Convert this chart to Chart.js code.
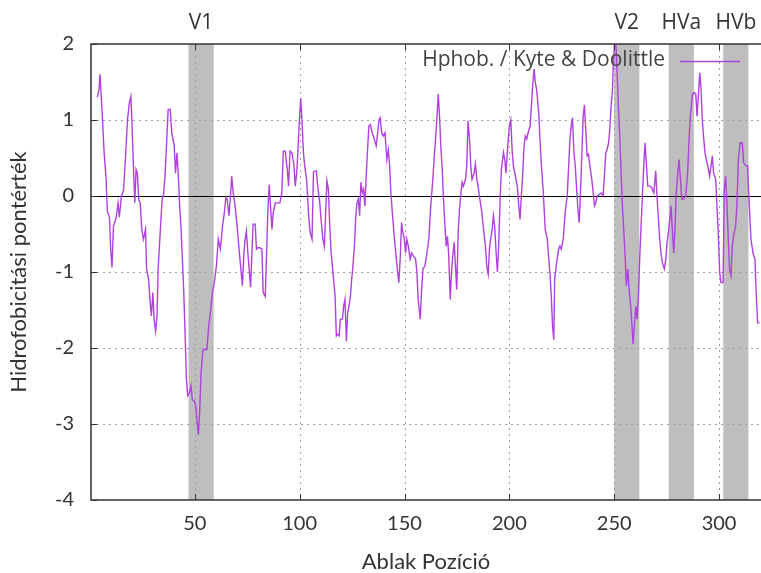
<!DOCTYPE html>
<html>
<head>
<meta charset="utf-8">
<script src="https://cdn.jsdelivr.net/npm/chart.js@4.4.1/dist/chart.umd.min.js"></script>
<style>
  html, body { margin: 0; padding: 0; background: #ffffff; }
  #wrap { width: 761px; height: 573px; }
</style>
</head>
<body>
<div id="wrap"><canvas id="hphobChart" width="761" height="573"></canvas></div>
<script>
// Window position (x) and Kyte & Doolittle score (y)
const positions = [
  3.5, 4.3, 4.8, 5.4, 6.0, 6.7, 7.7, 8.3, 9.3, 9.9, 10.5, 11.2, 12.4, 13.4, 14.0, 15.0, 16.0, 17.0, 17.9, 18.8,
  19.5, 20.0, 20.7, 21.4, 22.0, 22.6, 23.3, 24.0, 24.7, 25.5, 26.5, 27.0, 28.0, 28.7, 29.3, 30.0, 30.6, 31.3, 32.0, 32.5,
  33.5, 34.4, 35.0, 35.7, 36.4, 37.3, 38.3, 39.0, 39.6, 40.2, 40.8, 41.5, 42.1, 42.7, 43.4, 44.0, 44.7, 45.3, 46.0, 46.6,
  47.5, 48.2, 48.8, 49.8, 50.4, 51.0, 51.7, 52.3, 53.0, 53.9, 54.9, 55.8, 56.5, 57.4, 58.4, 59.3, 60.3, 61.2, 62.2, 63.2,
  64.1, 64.8, 65.4, 66.3, 67.0, 67.6, 68.3, 69.2, 70.2, 71.1, 72.1, 72.7, 73.4, 74.0, 74.6, 75.3, 75.9, 76.6, 77.2, 77.8,
  78.8, 79.4, 80.0, 81.0, 82.0, 82.6, 83.6, 84.2, 84.8, 85.5, 86.1, 86.8, 87.4, 88.4, 89.3, 90.6, 91.5, 92.2, 93.1, 94.1,
  94.7, 95.4, 96.3, 97.3, 97.9, 98.6, 99.2, 99.8, 100.5, 101.1, 101.8, 102.4, 103.3, 104.3, 105.0, 105.9, 106.6, 108.0, 108.6, 109.6,
  110.2, 111.1, 111.8, 112.4, 113.0, 113.7, 114.3, 115.0, 115.6, 116.2, 116.9, 117.5, 118.1, 118.8, 119.4, 120.4, 121.0, 121.6, 122.3, 122.9,
  123.5, 124.2, 124.8, 125.4, 126.1, 126.7, 127.3, 128.0, 128.6, 129.2, 129.9, 130.5, 131.1, 131.8, 132.4, 133.0, 133.7, 134.6, 135.6, 136.5,
  137.2, 137.8, 138.4, 139.1, 140.0, 140.7, 141.6, 142.3, 142.9, 143.5, 144.2, 145.1, 146.1, 146.7, 147.3, 148.0, 148.6, 149.2, 149.9, 150.5,
  151.1, 151.8, 152.7, 153.4, 154.3, 155.3, 155.9, 156.5, 157.5, 158.1, 158.8, 159.7, 160.7, 161.6, 162.3, 162.9, 163.5, 164.2, 164.8, 165.4,
  166.1, 166.7, 167.3, 168.0, 168.6, 169.2, 169.9, 170.5, 171.1, 171.8, 172.4, 173.0, 173.7, 174.3, 174.9, 175.6, 176.2, 176.9, 177.5, 178.1,
  179.1, 179.7, 180.3, 181.0, 181.6, 182.2, 183.2, 183.8, 184.5, 185.1, 185.7, 186.7, 187.7, 188.6, 189.2, 189.9, 190.5, 191.1, 191.8, 192.4,
  193.0, 193.7, 194.3, 194.9, 195.6, 196.2, 197.2, 197.8, 198.4, 199.1, 200.0, 200.7, 201.3, 201.9, 202.9, 203.8, 204.5, 205.1, 205.7, 206.4,
  207.0, 207.6, 208.3, 208.9, 209.9, 210.5, 211.1, 211.8, 212.4, 213.0, 214.0, 214.6, 215.2, 216.2, 217.1, 218.1, 218.7, 219.3, 220.0, 220.6,
  221.2, 221.6, 222.5, 223.5, 224.1, 224.7, 225.7, 226.6, 227.6, 228.2, 228.9, 229.5, 230.1, 230.8, 231.4, 232.0, 232.7, 233.3, 233.9, 234.6,
  235.2, 235.8, 236.5, 237.1, 237.7, 238.4, 239.3, 240.0, 240.6, 241.2, 241.9, 242.8, 243.8, 244.7, 245.4, 246.0, 246.6, 247.3, 247.9, 248.5,
  249.2, 249.5, 250.1, 250.8, 251.4, 252.0, 252.7, 253.3, 253.9, 254.6, 255.2, 255.8, 256.5, 257.1, 257.7, 258.4, 259.0, 259.6, 260.3, 260.9,
  261.6, 262.2, 262.8, 263.5, 264.1, 264.7, 265.4, 266.0, 267.0, 267.9, 268.9, 269.8, 270.4, 271.1, 271.7, 272.3, 273.0, 273.9, 274.6, 275.2,
  275.8, 276.5, 277.1, 277.7, 278.4, 279.0, 279.6, 280.3, 280.9, 281.6, 282.2, 283.1, 284.1, 285.0, 285.7, 286.3, 287.3, 288.2, 288.9, 289.5,
  290.1, 290.8, 291.4, 292.0, 292.7, 293.3, 293.9, 294.6, 295.5, 296.2, 296.8, 297.4, 298.4, 299.0, 299.6, 300.3, 300.9, 301.9, 302.5, 303.1,
  303.8, 304.4, 305.0, 305.7, 306.3, 306.9, 307.9, 308.5, 309.2, 310.1, 311.1, 311.7, 312.7, 313.6, 314.2, 315.2, 316.2, 317.1, 317.7, 318.4,
  319.3
];
const scores = [
  1.3, 1.4, 1.6, 1.3, 1.0, 0.6, 0.22, -0.2, -0.28, -0.7, -0.94, -0.4, -0.3, -0.09, -0.28, 0, 0.07, 0.53, 1.0, 1.23,
  1.31, 1.0, 0.4, -0.09, 0.35, 0.3, -0.05, -0.1, -0.44, -0.57, -0.44, -0.96, -1.1, -1.4, -1.58, -1.27, -1.62, -1.78, -1.58, -0.96,
  -0.48, -0.05, 0, 0.22, 0.61, 1.14, 1.14, 0.83, 0.75, 0.66, 0.3, 0.57, 0.3, -0.09, -0.4, -0.79, -1.23, -1.75, -2.41, -2.63,
  -2.59, -2.5, -2.68, -2.7, -2.76, -2.94, -3.14, -2.85, -2.32, -2.02, -2.02, -2.02, -1.75, -1.54, -1.27, -1.14, -0.92, -0.57, -0.7, -0.4,
  -0.22, -0.02, -0.04, -0.26, 0, 0.26, 0.04, -0.13, -0.4, -0.7, -1.0, -1.18, -0.75, -0.57, -0.46, -0.75, -0.96, -1.2, -0.79, -0.37,
  -0.37, -0.7, -0.68, -0.68, -0.7, -1.27, -1.32, -0.79, -0.22, 0.15, -0.13, -0.44, -0.22, -0.09, -0.09, -0.09, 0.04, 0.59, 0.59, 0.35,
  0.13, 0.59, 0.57, 0.4, 0.13, 0.3, 0.61, 0.96, 1.29, 1.0, 0.57, 0.4, 0.22, -0.26, -0.48, -0.57, 0.32, 0.33, 0.13, -0.09,
  -0.31, -0.57, -0.66, -0.22, 0.2, 0.09, -0.35, -0.75, -0.92, -1.1, -1.32, -1.84, -1.82, -1.84, -1.62, -1.62, -1.45, -1.36, -1.91, -1.54,
  -1.45, -1.32, -1.1, -0.92, -0.66, -0.31, -0.09, -0.04, -0.26, 0.18, 0.04, 0.09, -0.13, 0.3, 0.61, 0.92, 0.94, 0.83, 0.75, 0.66,
  0.83, 1.0, 1.03, 0.83, 0.79, 0.83, 0.48, 0.61, 0.4, 0.04, -0.22, -0.53, -0.83, -1.0, -1.14, -0.79, -0.35, -0.48, -0.57, -0.75,
  -0.57, -0.66, -0.83, -0.75, -0.79, -0.83, -1.0, -1.36, -1.62, -1.27, -0.96, -0.92, -0.75, -0.57, -0.22, 0, 0.22, 0.53, 0.75, 1.0,
  1.34, 1.05, 0.66, 0.35, -0.04, -0.35, -0.66, -0.53, -0.79, -1.36, -1.0, -0.79, -0.61, -0.92, -1.23, -0.48, -0.18, 0.04, 0.18, 0.13,
  0.22, 0.4, 0.99, 0.75, 0.4, 0.22, 0.3, 0.42, 0.22, 0.13, 0, -0.18, -0.44, -0.66, -0.92, -1.03, -0.7, -0.57, -0.44, -0.26,
  -0.4, -0.75, -1.0, -0.66, -0.04, 0.35, 0.57, 0.48, 0.3, 0.61, 0.92, 1.0, 0.61, 0.4, 0.26, 0.13, -0.13, -0.31, 0, 0.3,
  0.66, 0.79, 0.75, 0.83, 0.92, 1.18, 1.45, 1.67, 1.49, 1.4, 1.1, 0.75, 0.44, 0.04, -0.44, -0.57, -0.79, -1.0, -1.32, -1.71,
  -1.89, -1.1, -0.88, -0.7, -0.66, -0.7, -0.57, -0.22, 0, 0.35, 0.75, 0.92, 1.03, 0.57, 0.4, 0.13, -0.18, -0.35, 0.04, 0.57,
  1.05, 1.2, 0.83, 0.53, 0.55, 0.4, 0.22, 0.04, -0.13, -0.09, 0, 0.02, 0.04, 0, 0.3, 0.57, 0.61, 0.7, 0.88, 1.18,
  1.4, 1.67, 2.0, 2.0, 1.62, 1.18, 0.75, 0.3, -0.13, -0.48, -0.79, -1.18, -0.96, -1.23, -1.4, -1.67, -1.95, -1.71, -1.45, -1.62,
  -1.27, -0.79, -0.4, 0.04, 0.4, 0.7, 0.4, 0.13, 0.13, 0.11, 0.04, 0.33, 0, -0.31, -0.57, -0.75, -0.88, -0.96, -0.83, -0.61,
  -0.48, -0.31, -0.13, -0.44, -0.75, -0.4, 0.04, 0.3, 0.48, 0.22, -0.04, -0.04, 0, 0.3, 0.75, 1.05, 1.34, 1.36, 1.34, 1.05,
  1.32, 1.62, 1.4, 1.0, 0.75, 0.57, 0.48, 0.4, 0.26, 0.4, 0.53, 0.3, 0.22, -0.13, -0.48, -1.0, -1.14, -1.14, 0.09, 0.26,
  -0.13, -0.57, -0.96, -1.05, -0.66, -0.53, -0.4, -0.13, 0.48, 0.7, 0.7, 0.44, 0.4, 0.4, 0, -0.57, -0.75, -0.83, -1.27, -1.67,
  -1.67
];

// shaded regions (start / end position) and their labels
const bandLabels = ['V1', 'V2', 'HVa', 'HVb'];
const bandStart = [47, 250, 276, 302];
const bandEnd = [59, 262, 288, 314];

const xTickValues = [50, 100, 150, 200, 250, 300];
const yTickValues = [-4, -3, -2, -1, 0, 1, 2];

const lineColor = '#b040e0';
const textColor = '#333333';

// draws bands, dotted grid, zero axis, frame, inward ticks, labels and legend
const gnuplotLook = {
    id: 'gnuplotLook',
    beforeDatasetsDraw(chart) {
        const ctx = chart.ctx;
        const area = chart.chartArea;
        const x = chart.scales.x;
        const y = chart.scales.y;
        ctx.save();

        // gray bands
        ctx.fillStyle = '#bebebe';
        bandStart.forEach((s, i) => {
            const x0 = x.getPixelForValue(s);
            const x1 = x.getPixelForValue(bandEnd[i]);
            ctx.fillRect(x0, area.top, x1 - x0, area.bottom - area.top);
        });

        // dotted grid
        ctx.strokeStyle = '#a0a0a0';
        ctx.lineWidth = 1;
        ctx.setLineDash([2, 4]);
        xTickValues.forEach(v => {
            const px = Math.round(x.getPixelForValue(v)) + 0.5;
            ctx.beginPath();
            ctx.moveTo(px, area.top);
            ctx.lineTo(px, area.bottom);
            ctx.stroke();
        });
        yTickValues.forEach(v => {
            if (v === 0 || v === y.min || v === y.max) return;
            const py = Math.round(y.getPixelForValue(v)) + 0.5;
            ctx.beginPath();
            ctx.moveTo(area.left, py);
            ctx.lineTo(area.right, py);
            ctx.stroke();
        });
        ctx.setLineDash([]);

        // zero axis
        const zy = Math.round(y.getPixelForValue(0)) + 0.5;
        ctx.strokeStyle = '#000000';
        ctx.beginPath();
        ctx.moveTo(area.left, zy);
        ctx.lineTo(area.right, zy);
        ctx.stroke();
        ctx.restore();
    },
    afterDatasetsDraw(chart) {
        const ctx = chart.ctx;
        const area = chart.chartArea;
        const x = chart.scales.x;
        const y = chart.scales.y;
        ctx.save();

        // frame (left, top, bottom)
        ctx.strokeStyle = '#333333';
        ctx.lineWidth = 1.5;
        ctx.beginPath();
        ctx.moveTo(area.right, area.top);
        ctx.lineTo(area.left, area.top);
        ctx.lineTo(area.left, area.bottom);
        ctx.lineTo(area.right, area.bottom);
        ctx.stroke();

        // inward tick marks
        ctx.lineWidth = 1;
        xTickValues.forEach(v => {
            const px = Math.round(x.getPixelForValue(v)) + 0.5;
            ctx.beginPath();
            ctx.moveTo(px, area.bottom);
            ctx.lineTo(px, area.bottom - 6);
            ctx.moveTo(px, area.top);
            ctx.lineTo(px, area.top + 6);
            ctx.stroke();
        });
        yTickValues.forEach(v => {
            const py = Math.round(y.getPixelForValue(v)) + 0.5;
            ctx.beginPath();
            ctx.moveTo(area.left, py);
            ctx.lineTo(area.left + 6, py);
            ctx.stroke();
        });

        // band labels above the plot
        ctx.fillStyle = textColor;
        ctx.font = '21px "Open Sans"';
        ctx.textAlign = 'center';
        ctx.textBaseline = 'middle';
        bandLabels.forEach((label, i) => {
            const cx = (x.getPixelForValue(bandStart[i]) + x.getPixelForValue(bandEnd[i])) / 2;
            ctx.fillText(label, cx, 23);
        });

        // legend
        ctx.fillStyle = '#444444';
        ctx.font = '21px "Open Sans"';
        ctx.textAlign = 'right';
        ctx.fillText('Hphob. / Kyte & Doolittle', 665, 60);
        ctx.strokeStyle = lineColor;
        ctx.lineWidth = 1.5;
        ctx.beginPath();
        ctx.moveTo(680, 61.5);
        ctx.lineTo(740, 61.5);
        ctx.stroke();
        ctx.restore();
    }
};

const points = positions.map((p, i) => ({ x: p, y: scores[i] }));

new Chart(document.getElementById('hphobChart'), {
    type: 'line',
    data: {
        datasets: [{
            label: 'Hphob. / Kyte & Doolittle',
            data: points,
            borderColor: lineColor,
            borderWidth: 1.4,
            pointRadius: 0,
            tension: 0,
            fill: false
        }]
    },
    options: {
        responsive: false,
        animation: false,
        devicePixelRatio: 1,
        layout: { padding: { top: 44, right: 0, left: 0, bottom: 0 } },
        plugins: {
            legend: { display: false },
            tooltip: { enabled: false }
        },
        scales: {
            x: {
                type: 'linear',
                min: 0.5,
                max: 320,
                afterBuildTicks: scale => {
                    scale.ticks = xTickValues.map(v => ({ value: v }));
                },
                afterFit: scale => { scale.height = 73; },
                grid: { display: false, drawTicks: false },
                border: { display: false },
                ticks: {
                    padding: 12,
                    color: textColor,
                    font: { family: 'Lato', size: 20 },
                    maxRotation: 0
                },
                title: {
                    display: true,
                    text: 'Ablak Pozíció',
                    color: textColor,
                    font: { family: 'Lato', size: 22, lineHeight: 1 },
                    padding: { top: 0, bottom: 0 }
                }
            },
            y: {
                min: -4,
                max: 2,
                afterBuildTicks: scale => {
                    scale.ticks = yTickValues.map(v => ({ value: v }));
                },
                afterFit: scale => { scale.width = 91; },
                grid: { display: false, drawTicks: false },
                border: { display: false },
                ticks: {
                    padding: 17,
                    color: textColor,
                    font: { family: 'Lato', size: 20 }
                },
                title: {
                    display: true,
                    text: 'Hidrofobicitási pontérték',
                    color: textColor,
                    font: { family: 'Lato', size: 22 },
                    padding: { top: 6, bottom: 0 }
                }
            }
        }
    },
    plugins: [gnuplotLook]
});
</script>
</body>
</html>
